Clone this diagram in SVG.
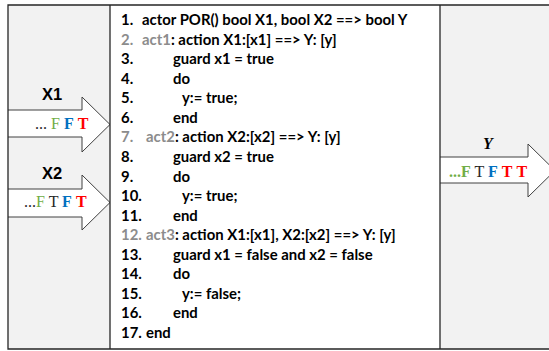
<svg xmlns="http://www.w3.org/2000/svg" width="549" height="351" viewBox="0 0 549 351">
  <style>
    .panel { fill: #f2f2f2; }
    .frame { fill: none; stroke: #262626; stroke-width: 1.3; }
    .arrow { fill: #ffffff; stroke: #404040; stroke-width: 1; stroke-linejoin: miter; }
    .code { font-family: Lato, "Liberation Sans", sans-serif; font-weight: bold; font-size: 14.9px; fill: #000000; }
    .dim { fill: #8c8c8c; }
    .port { font-family: "Liberation Sans", Arial, sans-serif; font-weight: bold; font-size: 16.5px; fill: #000000; text-anchor: middle; }
    .tok { font-family: "Liberation Serif", "Times New Roman", serif; font-size: 16px; }
    .b { font-weight: bold; }
    .g { fill: #70ad47; }
    .bl { fill: #0070c0; }
    .r { fill: #ff0000; }
    .k { fill: #262626; }
  </style>

  <!-- side panels -->
  <g id="input-panel">
    <rect class="panel" x="8" y="5" width="102" height="344"/>
  </g>
  <g id="output-panel">
    <rect class="panel" x="440" y="5" width="115" height="344"/>
  </g>

  <!-- actor source listing -->
  <g id="actor-code">
    <rect x="110" y="5" width="330" height="344" fill="#ffffff"/>
    <g class="code">
      <text x="121" y="25">1.<tspan x="142">actor POR() bool X1, bool X2 ==&gt; bool Y</tspan></text>
      <text x="121" y="44.6"><tspan class="dim">2.</tspan><tspan x="142" class="dim">act1</tspan>: action X1:[x1] ==&gt; Y: [y]</text>
      <text x="121" y="64.1">3.<tspan x="173">guard x1 = true</tspan></text>
      <text x="121" y="83.7">4.<tspan x="173">do</tspan></text>
      <text x="121" y="103.2">5.<tspan x="182">y:= true;</tspan></text>
      <text x="121" y="122.8">6.<tspan x="173">end</tspan></text>
      <text x="121" y="142.4"><tspan class="dim">7.</tspan><tspan x="146" class="dim">act2</tspan>: action X2:[x2] ==&gt; Y: [y]</text>
      <text x="121" y="161.9">8.<tspan x="173">guard x2 = true</tspan></text>
      <text x="121" y="181.5">9.<tspan x="173">do</tspan></text>
      <text x="121" y="201">10.<tspan x="182">y:= true;</tspan></text>
      <text x="121" y="220.6">11.<tspan x="173">end</tspan></text>
      <text x="121" y="240.2"><tspan class="dim">12.</tspan><tspan x="146" class="dim">act3</tspan>: action X1:[x1], X2:[x2] ==&gt; Y: [y]</text>
      <text x="121" y="259.7">13.<tspan x="173">guard x1 = false and x2 = false</tspan></text>
      <text x="121" y="279.3">14.<tspan x="173">do</tspan></text>
      <text x="121" y="298.8">15.<tspan x="182">y:= false;</tspan></text>
      <text x="121" y="318.4">16.<tspan x="173">end</tspan></text>
      <text x="121" y="338">17.<tspan x="146">end</tspan></text>
    </g>
  </g>

  <!-- token streams -->
  <g id="connectors">
    <path id="arrow-x1" class="arrow" d="M8,110 H82 V97 L110,124.5 L82,152 V137 H8"/>
    <path id="arrow-x2" class="arrow" d="M8,189 H82 V175 L110,202.5 L82,230 V217 H8"/>
    <path id="arrow-y" class="arrow" d="M440,157 H528 V144 L555,170.5 L528,197 V183 H440"/>
  </g>

  <g id="port-x1">
    <text class="port" x="52" y="100">X1</text>
    <text class="tok" x="35" y="128.5"><tspan class="k">...</tspan> <tspan class="g">F</tspan> <tspan class="bl b">F</tspan> <tspan class="r b">T</tspan></text>
  </g>
  <g id="port-x2">
    <text class="port" x="52" y="179">X2</text>
    <text class="tok" x="24" y="207"><tspan class="k">...</tspan><tspan class="g">F</tspan> <tspan class="k">T</tspan> <tspan class="bl b">F</tspan> <tspan class="r b">T</tspan></text>
  </g>
  <g id="port-y">
    <text class="tok b" x="488" y="149" font-style="italic" text-anchor="middle">Y</text>
    <text class="tok" x="449" y="177"><tspan class="g b">...F</tspan> <tspan class="k">T</tspan> <tspan class="bl b">F</tspan> <tspan class="r b">T</tspan> <tspan class="r b">T</tspan></text>
  </g>

  <!-- outer frame and dividers -->
  <g id="frame">
    <path class="frame" d="M555,5 H8 V349 H555"/>
    <line class="frame" x1="110" y1="5" x2="110" y2="349"/>
    <line class="frame" x1="440" y1="5" x2="440" y2="349"/>
  </g>
</svg>
